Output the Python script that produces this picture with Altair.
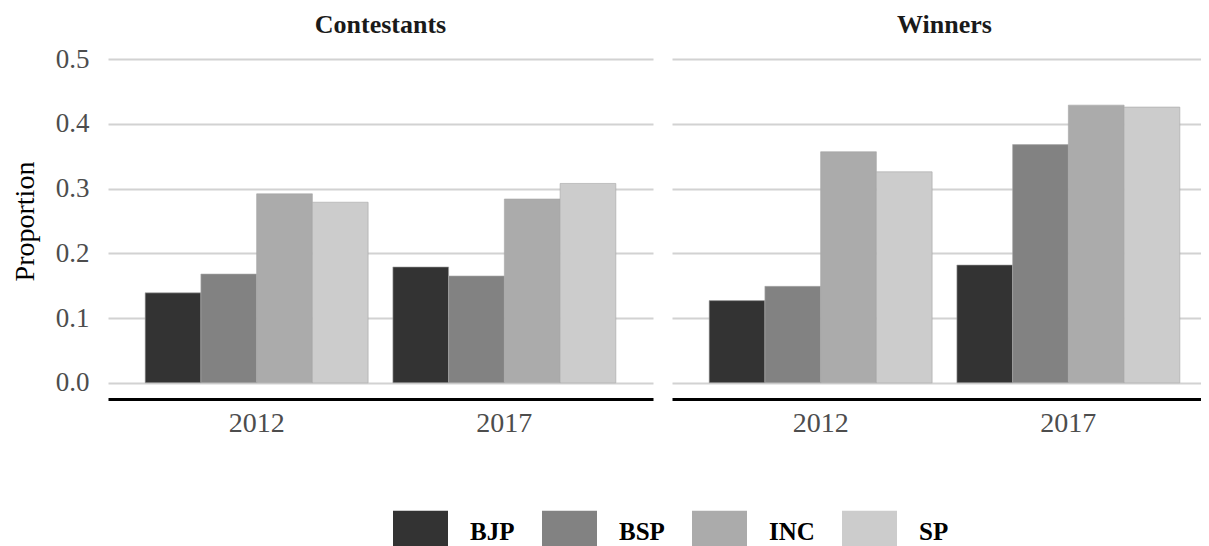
import altair as alt
import pandas as pd

groups = ["Contestants", "Winners"]
years = ["2012", "2017"]
parties = ["BJP", "BSP", "INC", "SP"]

contestants_2012 = [0.139, 0.168, 0.292, 0.279]
contestants_2017 = [0.179, 0.165, 0.284, 0.308]
winners_2012 = [0.127, 0.149, 0.357, 0.326]
winners_2017 = [0.182, 0.368, 0.429, 0.426]

party_colors = ["#333333", "#828282", "#ababab", "#cccccc"]

rows = []
for g, y, vals in [
    ("Contestants", "2012", contestants_2012),
    ("Contestants", "2017", contestants_2017),
    ("Winners", "2012", winners_2012),
    ("Winners", "2017", winners_2017),
]:
    for p, v in zip(parties, vals):
        rows.append({"group": g, "year": y, "party": p, "value": v})
df = pd.DataFrame(rows)

FONT = "Liberation Serif"

base = alt.Chart(df).mark_bar(stroke="#a6a6a6", strokeWidth=0.6).encode(
    x=alt.X(
        "year:N",
        sort=years,
        title=None,
        scale=alt.Scale(paddingInner=0.1, paddingOuter=0.15),
        axis=alt.Axis(
            labelAngle=0,
            labelFont=FONT,
            labelFontSize=28,
            labelColor="#4d4d4d",
            labelPadding=10,
            ticks=False,
            grid=False,
            domainColor="black",
            domainWidth=3,
        ),
    ),
    xOffset=alt.XOffset("party:N", sort=parties, scale=alt.Scale(paddingInner=0, paddingOuter=0)),
    y=alt.Y(
        "value:Q",
        stack=None,
        title="Proportion",
        scale=alt.Scale(domain=[-0.025, 0.525], nice=False, zero=False),
        axis=alt.Axis(
            values=[0, 0.1, 0.2, 0.3, 0.4, 0.5],
            format=".1f",
            labelFont=FONT,
            labelFontSize=27,
            labelColor="#4d4d4d",
            labelPadding=19,
            ticks=False,
            domain=False,
            grid=True,
            gridColor="#d2d2d2",
            gridWidth=2,
            titleFont=FONT,
            titleFontSize=28,
            titleFontWeight="normal",
            titleColor="black",
            titlePadding=16,
        ),
    ),
    y2=alt.datum(0),
    color=alt.Color(
        "party:N",
        sort=parties,
        scale=alt.Scale(domain=parties, range=party_colors),
        legend=alt.Legend(
            title=None,
            orient="none",
            legendX=285,
            legendY=461,
            direction="horizontal",
            symbolType="M-1,-0.764H1V0.764H-1Z",
            symbolSize=3025,
            symbolStrokeWidth=0,
            symbolOpacity=1,
            labelFont=FONT,
            labelFontSize=25,
            labelFontWeight="bold",
            labelColor="black",
            labelOffset=22,
            columnPadding=27,
            padding=0,
        ),
    ),
).properties(width=545, height=356)

chart = base.facet(
    column=alt.Column(
        "group:N",
        sort=groups,
        header=alt.Header(
            title=None,
            labelFont=FONT,
            labelFontSize=26,
            labelFontWeight="bold",
            labelColor="#1a1a1a",
            labelPadding=5,
        ),
    ),
    spacing=19,
).properties(
    padding={"left": 3, "top": 4, "right": -16, "bottom": 0}
).configure_view(stroke=None)

chart.save("out.html", embed_options={"renderer": "svg", "actions": False})
